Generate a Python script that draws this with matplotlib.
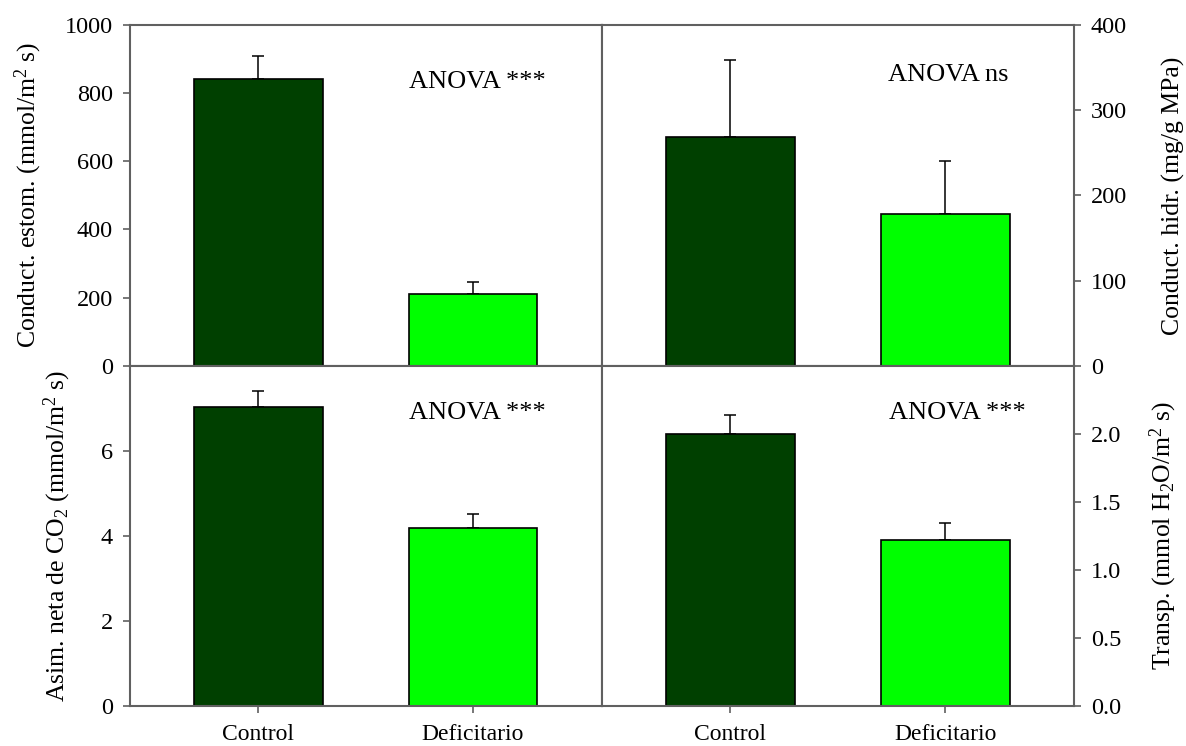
import matplotlib
matplotlib.use("Agg")
import matplotlib.pyplot as plt

plt.rcParams['font.family'] = ['Liberation Serif', 'DejaVu Serif']
plt.rcParams['mathtext.default'] = 'regular'

# Treatments
categories = ["Control", "Deficitario"]

# Stomatal conductance (mmol/m2 s)
gs_mean = [842, 210]
gs_err = [66, 36]

# Hydraulic conductance (mg/g MPa)
kh_mean = [269, 178]
kh_err = [90, 62]

# Net CO2 assimilation (mmol/m2 s)
an_mean = [7.02, 4.19]
an_err = [0.38, 0.32]

# Transpiration (mmol H2O/m2 s)
e_mean = [2.0, 1.22]
e_err = [0.135, 0.12]

bar_colors = ["#004000", "#00ff00"]
spine_color = "#606060"

fig = plt.figure(figsize=(11.86, 7.46), dpi=100)

L, M, R = 0.1092, 0.5073, 0.9056
B, H, T = 0.0540, 0.5098, 0.9665

ax_tl = fig.add_axes([L, H, M - L, T - H])
ax_tr = fig.add_axes([M, H, R - M, T - H])
ax_bl = fig.add_axes([L, B, M - L, H - B])
ax_br = fig.add_axes([M, B, R - M, H - B])

panels = [
    (ax_tl, gs_mean, gs_err, (0, 1000), [0, 200, 400, 600, 800, 1000], None,
     "Conduct. estom. (mmol/m$^2$ s)", "left", -0.2146, "ANOVA ***", (0.737, 0.833)),
    (ax_tr, kh_mean, kh_err, (0, 400), [0, 100, 200, 300, 400], None,
     "Conduct. hidr. (mg/g MPa)", "right", 1.2097, "ANOVA ns", (0.733, 0.853)),
    (ax_bl, an_mean, an_err, (0, 8), [0, 2, 4, 6], None,
     "Asim. neta de CO$_2$ (mmol/m$^2$ s)", "left", -0.153, "ANOVA ***", (0.737, 0.861)),
    (ax_br, e_mean, e_err, (0, 2.5), [0.0, 0.5, 1.0, 1.5, 2.0],
     ["0.0", "0.5", "1.0", "1.5", "2.0"],
     "Transp. (mmol H$_2$O/m$^2$ s)", "right", 1.1886, "ANOVA ***", (0.752, 0.861)),
]

x = list(range(len(categories)))
for (ax, means, errs, ylim, yticks, ylabels, ylabel, side, labx,
     note, notepos) in panels:
    ax.bar(x, means, width=0.6, color=bar_colors, edgecolor="black",
           linewidth=1.2, zorder=2)
    ax.errorbar(x, means, yerr=[[0] * len(errs), errs], fmt="none",
                ecolor="black", elinewidth=1.1, capsize=4.5, capthick=1.1,
                zorder=1)
    ax.set_xlim(-0.6, 1.6)
    ax.set_ylim(*ylim)
    ax.set_yticks(yticks)
    if ylabels is not None:
        ax.set_yticklabels(ylabels)
    for sp in ax.spines.values():
        sp.set_color(spine_color)
        sp.set_linewidth(1.5)
    ax.tick_params(axis="y", direction="out", length=5, width=1.2,
                   color=spine_color, labelsize=17.5, pad=7)
    if side == "right":
        ax.yaxis.tick_right()
        ax.yaxis.set_label_position("right")
    ax.set_ylabel(ylabel, fontsize=18.5)
    ax.yaxis.set_label_coords(labx, 0.5)
    ax.yaxis.label.set_verticalalignment("center")
    ax.text(notepos[0], notepos[1], note, transform=ax.transAxes,
            ha="center", va="center", fontsize=19)

for ax in (ax_tl, ax_tr):
    ax.set_xticks([])

for ax in (ax_bl, ax_br):
    ax.set_xticks(x)
    ax.set_xticklabels(categories)
    ax.tick_params(axis="x", direction="out", length=5, width=1.2,
                   color=spine_color, labelsize=17, pad=8.5)

fig.savefig("out.png", dpi=100)
